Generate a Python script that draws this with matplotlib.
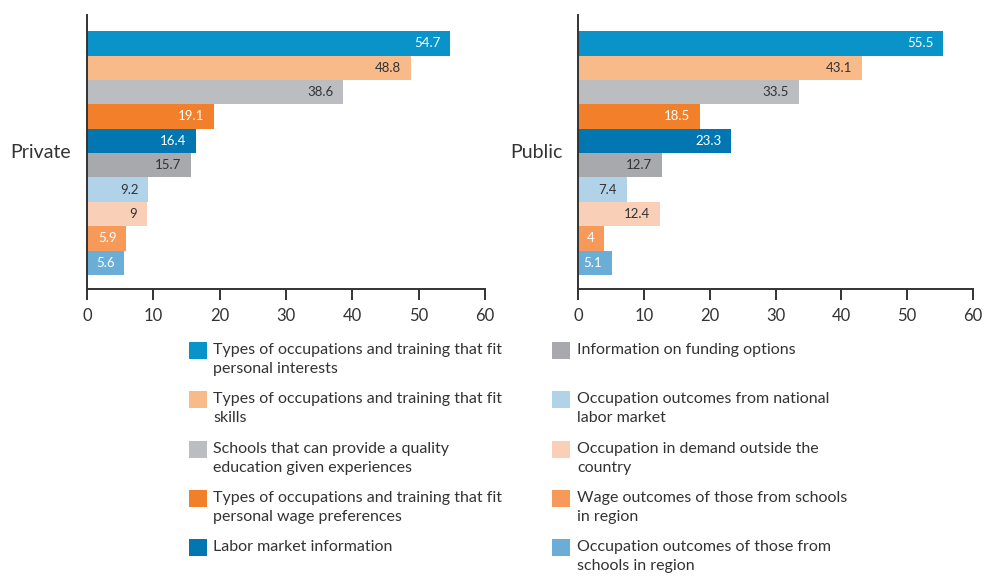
import matplotlib
matplotlib.use("Agg")
import matplotlib.pyplot as plt
from matplotlib.patches import Rectangle

plt.rcParams['font.family'] = ['Lato', 'DejaVu Sans']

categories = [
    "Types of occupations and training that fit\npersonal interests",
    "Types of occupations and training that fit\nskills",
    "Schools that can provide a quality\neducation given experiences",
    "Types of occupations and training that fit\npersonal wage preferences",
    "Labor market information",
    "Information on funding options",
    "Occupation outcomes from national\nlabor market",
    "Occupation in demand outside the\ncountry",
    "Wage outcomes of those from schools\nin region",
    "Occupation outcomes of those from\nschools in region",
]
private_values = [54.7, 48.8, 38.6, 19.1, 16.4, 15.7, 9.2, 9, 5.9, 5.6]
public_values = [55.5, 43.1, 33.5, 18.5, 23.3, 12.7, 7.4, 12.4, 4, 5.1]
panel_names = ["Private", "Public"]
x_ticks = [0, 10, 20, 30, 40, 50, 60]

colors = ["#0993C8", "#F9BA8A", "#BBBDC1", "#F2802B", "#0276B1",
          "#A7A9AC", "#B1D3EA", "#F9CFB8", "#F79A59", "#6AAED8"]
label_colors = ["white", "#333333", "#333333", "white", "white",
                "#333333", "#333333", "#333333", "white", "white"]

W, H = 985, 576
fig = plt.figure(figsize=(W / 100, H / 100), dpi=100)

def fx(px):
    return px / W

def fy(py):
    return 1 - py / H

ax_top, ax_bot = 15, 289
panels = [(87, 485, private_values), (578, 973, public_values)]
spine_col = "#333333"

for (x0, x1, vals), name in zip(panels, panel_names):
    ax = fig.add_axes([fx(x0), fy(ax_bot), fx(x1 - x0), (ax_bot - ax_top) / H])
    ypos = list(range(len(vals)))
    ax.barh(ypos, vals, height=1.0, color=colors, edgecolor="none")
    ax.set_xlim(0, 60)
    ax.set_ylim(10.07, -1.16)
    ax.set_xticks(x_ticks)
    ax.set_xticklabels([str(t) for t in x_ticks], fontsize=12, color="#333333")
    ax.set_yticks([])
    for s in ["top", "right"]:
        ax.spines[s].set_visible(False)
    for s in ["left", "bottom"]:
        ax.spines[s].set_color(spine_col)
        ax.spines[s].set_linewidth(1.4)
    ax.tick_params(axis="x", direction="out", length=8, width=1.4,
                   color=spine_col, pad=6)
    for y, v, lc in zip(ypos, vals, label_colors):
        ax.annotate(f"{v:g}", xy=(v, y), xytext=(-7, 0),
                    textcoords="offset points", ha="right", va="center",
                    fontsize=9.5, color=lc)
    ax.text(-0.04, 0.5, name, transform=ax.transAxes, ha="right",
            va="center", fontsize=14, color="#333333")

# Manual legend (two columns, aligned rows)
col_sq_x = [189, 552]
col_txt_x = [213, 577]
row_y = [342, 391, 441, 490, 539]
sq_w, sq_h = 18, 17
for i, (lab, c) in enumerate(zip(categories, colors)):
    col = i // 5
    row = i % 5
    sx = col_sq_x[col]
    sy = row_y[row]
    fig.add_artist(Rectangle((fx(sx), fy(sy + sq_h)), sq_w / W, sq_h / H,
                             transform=fig.transFigure, color=c, lw=0))
    fig.text(fx(col_txt_x[col]), fy(sy + 1), lab, ha="left", va="top",
             fontsize=11.5, color="#333333", linespacing=1.45)

fig.savefig("out.png", dpi=100)
